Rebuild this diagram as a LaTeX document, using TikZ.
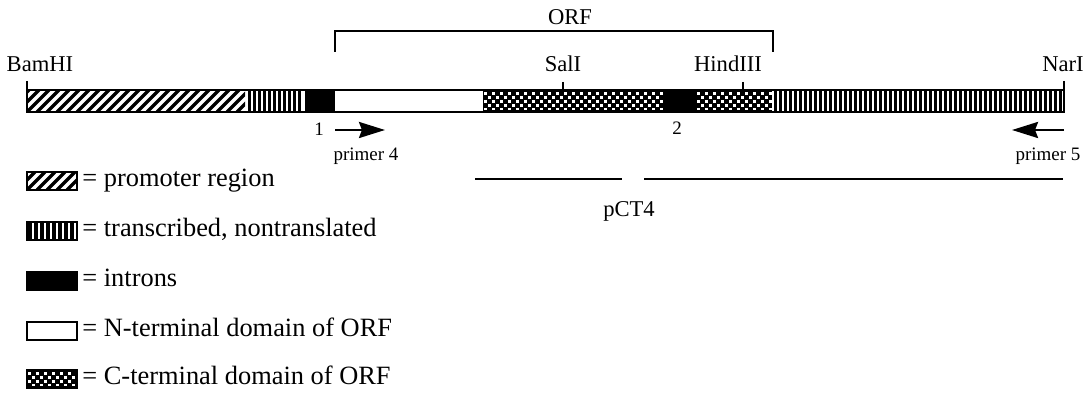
\documentclass[tikz,border=0pt]{standalone}
\usepackage{fontspec}
\setmainfont{Liberation Serif}
\usetikzlibrary{arrows.meta}
\begin{document}
\begin{tikzpicture}[x=0.5pt,y=-0.5pt,
  lbl/.style={inner sep=0pt,anchor=base,font=\fontsize{11.3}{13}\selectfont},
  sml/.style={inner sep=0pt,anchor=base,font=\fontsize{9.5}{11}\selectfont},
  leg/.style={inner sep=0pt,anchor=base west,font=\fontsize{13.2}{15}\selectfont},
  tick/.style={line width=1pt},
  prarrow/.style={line width=1.3pt,-{Stealth[length=13pt,width=8pt,inset=1.5pt]}},
  hline/.style={line width=1.7pt},
  sline/.style={line width=1.5pt},
  sqw/.style={fill=white},
  border/.style={draw,line width=1.4pt},
  legbox/.style={draw,line width=1.1pt}]
\useasboundingbox (0,0) rectangle (1088,395);
% ---- gene bar ----
% promoter (hatched)
\begin{scope}
  \clip (27,90) rectangle (245,112);
  \foreach \x in {7,17,...,245} \draw[hline] (\x,112) -- ++(22,-22);
\end{scope}
% 5' transcribed (stripes)
\foreach \x in {249,254,...,303} \draw[sline] (\x,90) -- (\x,112);
% intron 1
\fill (305,90) rectangle (335,112);
% N-terminal (white)
\fill[white] (335,90) rectangle (483,112);
% C-terminal part 1 (checker)
\fill (483,90) rectangle (663,112);
\begin{scope}
  \clip (483,92) rectangle (663,110);
  \foreach \r in {0,1,...,4}{
    \pgfmathsetmacro{\yy}{92+4*\r}
    \pgfmathsetmacro{\xo}{mod(\r,2)*4}
    \foreach \x in {483,491,...,663} \fill[sqw] (\x+\xo+0.5,\yy+0.5) rectangle ++(3,3);
  }
\end{scope}
% intron 2
\fill (663,90) rectangle (696,112);
% C-terminal part 2 (checker)
\fill (696,90) rectangle (772,112);
\begin{scope}
  \clip (696,92) rectangle (772,110);
  \foreach \r in {0,1,...,4}{
    \pgfmathsetmacro{\yy}{92+4*\r}
    \pgfmathsetmacro{\xo}{mod(\r,2)*4}
    \foreach \x in {696,704,...,772} \fill[sqw] (\x+\xo+0.5,\yy+0.5) rectangle ++(3,3);
  }
\end{scope}
% 3' transcribed (stripes)
\foreach \x in {775,780,...,1062} \draw[sline] (\x,90) -- (\x,112);
\path[border] (27,90) rectangle (1064,112);
% ---- site ticks ----
\coordinate (bamT) at (27,81); \coordinate (bamB) at (27,90);
\coordinate (salT) at (563,82); \coordinate (salB) at (563,90);
\coordinate (hinT) at (743,82); \coordinate (hinB) at (743,90);
\coordinate (narT) at (1064,81); \coordinate (narB) at (1064,90);
\draw[tick] (bamT) -- (bamB);
\draw[tick] (salT) -- (salB);
\draw[tick] (hinT) -- (hinB);
\draw[tick] (narT) -- (narB);
\node[lbl] (bam) at (40,72) {BamHI};
\node[lbl] (sal) at (563,72) {SalI};
\node[lbl] (hind) at (728,72) {HindIII};
\node[lbl] (nar) at (1063,72) {NarI};
% ---- ORF bracket ----
\coordinate (oa) at (335,52); \coordinate (ob) at (335,31);
\coordinate (oc) at (773,31); \coordinate (od) at (773,52);
\draw[line width=1pt] (oa) -- (ob) -- (oc) -- (od);
\node[lbl] (orf) at (570,25) {ORF};
% ---- primers ----
\node[sml] (one) at (319,136) {1};
\node[sml] (two) at (677,135) {2};
\coordinate (p4s) at (335,130); \coordinate (p4e) at (385,130);
\draw[prarrow] (p4s) -- (p4e);
\coordinate (p5s) at (1064,130); \coordinate (p5e) at (1012,130);
\draw[prarrow] (p5s) -- (p5e);
\node[sml] (pr4) at (366,161) {primer 4};
\node[sml] (pr5) at (1048,161) {primer 5};
% ---- pCT4 ----
\coordinate (c1) at (475,179); \coordinate (c2) at (622,179);
\coordinate (c3) at (644,179); \coordinate (c4) at (1063,179);
\draw[line width=1pt] (c1) -- (c2);
\draw[line width=1pt] (c3) -- (c4);
\node[lbl] (pct) at (629,217) {pCT4};
% ---- legend ----
\begin{scope}
  \clip (27,172) rectangle (77,190);
  \foreach \x in {7,17,...,77} \draw[hline] (\x,190) -- ++(18,-18);
\end{scope}
\path[legbox] (27,172) rectangle (77,190);
\node[leg] (l1) at (82,187) {= promoter region};
\fill[white] (27,222) rectangle (77,240);
\foreach \x in {30,36,...,76} \draw[line width=1.8pt] (\x,222) -- (\x,240);
\path[legbox] (27,222) rectangle (77,240);
\node[leg] (l2) at (82,237) {= transcribed, nontranslated};
\path[legbox,fill=black] (27,272) rectangle (77,290);
\node[leg] (l3) at (82,287) {= introns};
\path[legbox,fill=white] (27,322) rectangle (77,340);
\node[leg] (l4) at (82,337) {= N-terminal domain of ORF};
\fill (27,370) rectangle (77,388);
\begin{scope}
  \clip (27,372) rectangle (77,386);
  \foreach \r in {0,1,...,3}{
    \pgfmathsetmacro{\yy}{372+4*\r}
    \pgfmathsetmacro{\xo}{mod(\r,2)*4}
    \foreach \x in {27,35,...,77} \fill[sqw] (\x+\xo+0.5,\yy+0.5) rectangle ++(3,3);
  }
\end{scope}
\path[legbox] (27,370) rectangle (77,388);
\node[leg] (l5) at (82,385) {= C-terminal domain of ORF};
\end{tikzpicture}
\end{document}
